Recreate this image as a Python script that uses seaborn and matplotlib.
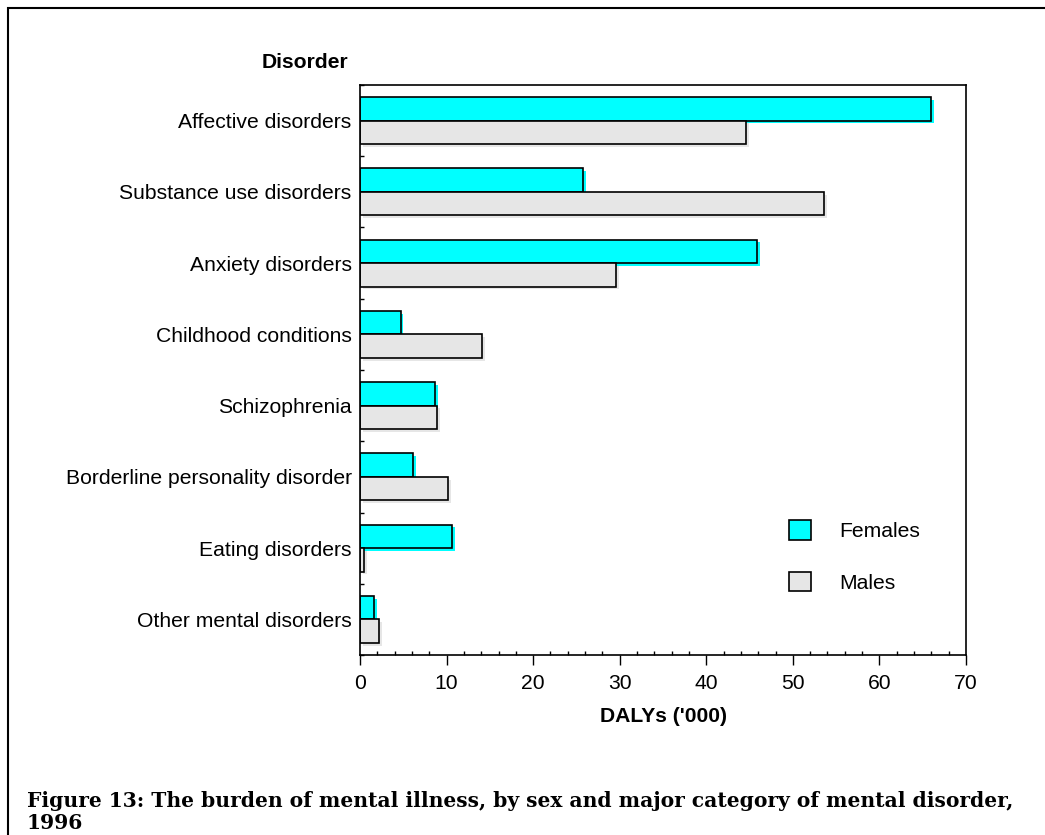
import seaborn as sns
import matplotlib.pyplot as plt
import matplotlib.patheffects as pe
from matplotlib.patches import Rectangle
from matplotlib.ticker import MultipleLocator
import pandas as pd

disorders = ["Affective disorders", "Substance use disorders", "Anxiety disorders",
             "Childhood conditions", "Schizophrenia", "Borderline personality disorder",
             "Eating disorders", "Other mental disorders"]
females = [66.0, 25.8, 45.9, 4.7, 8.7, 6.1, 10.6, 1.6]
males = [44.6, 53.6, 29.6, 14.1, 8.9, 10.2, 0.5, 2.2]
sexes = ["Females", "Males"]
colors = {"Females": "#00FFFF", "Males": "#E6E6E6"}

df = pd.DataFrame({
    "Disorder": disorders * 2,
    "DALYs": females + males,
    "Sex": ["Females"] * len(disorders) + ["Males"] * len(disorders),
})

sns.set_style("white")
plt.rcParams["font.family"] = ["Liberation Sans", "DejaVu Sans"]
for k in ["text.color", "axes.labelcolor", "xtick.color", "ytick.color"]:
    plt.rcParams[k] = "black"

fs = 15.2
fig = plt.figure(figsize=(10.45, 8.35), dpi=100)
ax = fig.add_axes([360 / 1045, 1 - 655 / 835, 606 / 1045, 570 / 835])

sns.barplot(data=df, y="Disorder", x="DALYs", hue="Sex", hue_order=sexes,
            palette=colors, order=disorders, orient="h", width=0.66,
            edgecolor="black", linewidth=1.2, saturation=1, ax=ax, legend=False)

# little same-colour drop shadow on every bar
for p in ax.patches:
    fc = p.get_facecolor()
    p.set_path_effects([pe.SimplePatchShadow(offset=(2, -2), shadow_rgbFace=fc, alpha=1),
                        pe.Normal()])

ax.set_xlim(0, 70)
ax.set_ylim(len(disorders) - 0.5, -0.5)
ax.xaxis.set_major_locator(MultipleLocator(10))
ax.xaxis.set_minor_locator(MultipleLocator(2))
ax.set_yticks([i + 0.5 for i in range(-1, len(disorders))], minor=True)
ax.set_yticks(range(len(disorders)))
ax.set_yticklabels(disorders)
ax.tick_params(axis="y", which="major", length=0, labelsize=fs, pad=6)
ax.tick_params(axis="y", which="minor", direction="in", length=3, left=True, width=1)
ax.tick_params(axis="x", which="major", direction="out", length=7, labelsize=fs, bottom=True, width=1, pad=7)
ax.tick_params(axis="x", which="minor", direction="in", length=3, bottom=True, width=1)
for s in ax.spines.values():
    s.set_color("black")
    s.set_linewidth(1.2)
ax.set_ylabel("")
ax.set_xlabel("DALYs ('000)", fontsize=fs, fontweight="bold", labelpad=10)

# legend
handles = [Rectangle((0, 0), 1, 1, facecolor=colors[s], edgecolor="black", linewidth=1.2) for s in sexes]
ax.legend(handles, sexes, loc="center left", bbox_to_anchor=(0.691, 0.173), frameon=False,
          fontsize=fs, handlelength=1.05, handleheight=1.05, labelspacing=1.45, handletextpad=1.3,
          borderpad=0)

fig.text(305 / 1045, 1 - 63 / 835, "Disorder", fontsize=fs, fontweight="bold", ha="center", va="center")

fig.text(27 / 1045, 1 - 812 / 835, "Figure 13: The burden of mental illness, by sex and major category of mental disorder,\n1996",
         fontsize=14.6, fontweight="bold", ha="left", va="center", linespacing=1.1,
         family=["DejaVu Serif"])

fig.patches.append(Rectangle((8 / 1045, -0.1), 1.2, 1 - 8 / 835 + 0.1, transform=fig.transFigure,
                             fill=False, edgecolor="black", linewidth=1.5))

fig.savefig("out.png", dpi=100)
